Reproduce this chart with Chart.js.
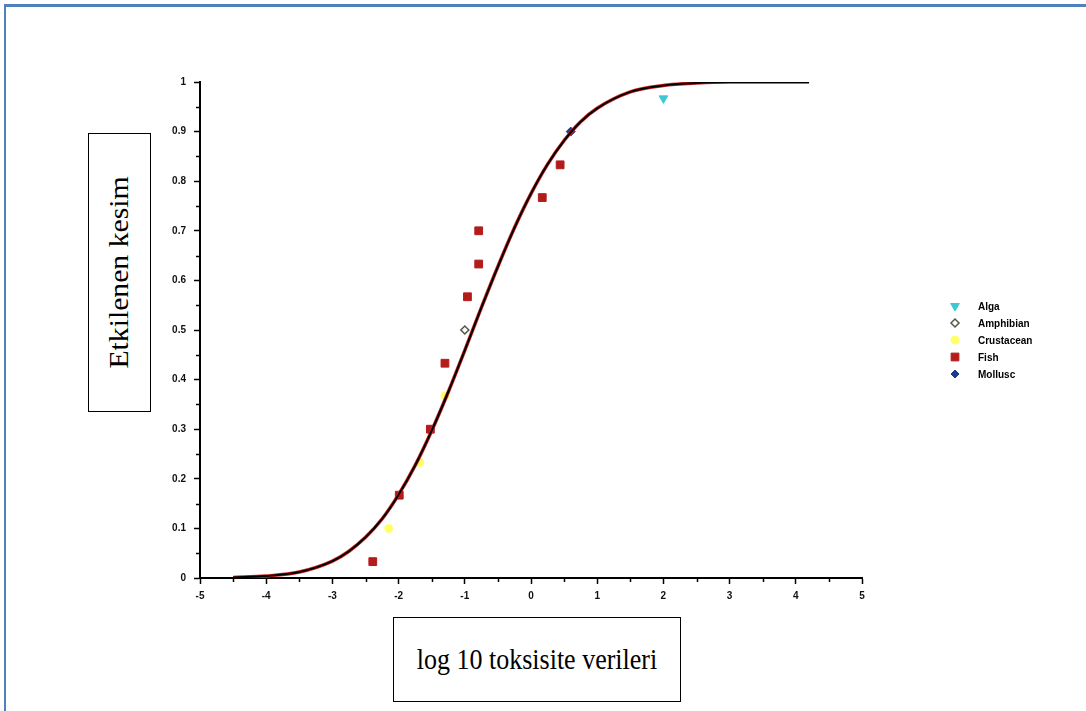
<!DOCTYPE html>
<html>
<head>
<meta charset="utf-8">
<script src="https://cdn.jsdelivr.net/npm/chart.js@4.4.0/dist/chart.umd.min.js"></script>
<style>
  body { margin: 0; background: #fff; overflow: hidden; width: 1086px; height: 711px; position: relative; }
  #frame { position: absolute; left: 4px; top: 4px; width: 1100px; height: 720px; border-left: 2px solid #4f81bd; border-top: 3px solid #4f81bd; }
  #chart { position: absolute; left: 0; top: 0; }
  .label-box { position: absolute; border: 1.5px solid #000; background: #fff; font-family: "Liberation Serif", "Times New Roman", serif; color: #000; display: flex; align-items: center; justify-content: center; box-sizing: border-box; }
  #ylab { left: 88px; top: 133px; width: 63px; height: 279px; }
  #ylab span { transform: rotate(-90deg) scaleX(1.1); white-space: nowrap; font-size: 27px; }
  #xlab { left: 393px; top: 617px; width: 288px; height: 85px; }
  #xlab span { font-size: 26px; white-space: nowrap; transform: scaleY(1.1); }
</style>
</head>
<body>
<div id="frame"></div>
<canvas id="chart" width="1086" height="711"></canvas>
<div class="label-box" id="ylab"><span>Etkilenen kesim</span></div>
<div class="label-box" id="xlab"><span>log 10 toksisite verileri</span></div>
<script>
// fitted curve
const curveX = [-4.5, -4, -3.5, -3, -2.75, -2.5, -2.25, -2, -1.75, -1.5, -1.25, -1, -0.75, -0.5, -0.25, 0, 0.25, 0.5, 0.75, 1, 1.5, 2, 2.5, 3, 3.5, 4.2];
const curveY = [0.001, 0.004, 0.012, 0.034, 0.054, 0.082, 0.119, 0.168, 0.227, 0.297, 0.375, 0.459, 0.545, 0.628, 0.706, 0.775, 0.834, 0.882, 0.92, 0.947, 0.98, 0.993, 0.998, 1.0, 1.0, 1.0];

// species groups
const algaX = [2.0];
const algaY = [0.967];
const amphibianX = [-1.0];
const amphibianY = [0.5];
const crustaceanX = [-2.15, -1.68, -1.3];
const crustaceanY = [0.1, 0.233, 0.367];
const fishX = [-2.39, -1.99, -1.52, -1.3, -0.96, -0.79, -0.79, 0.17, 0.44];
const fishY = [0.033, 0.167, 0.3, 0.433, 0.567, 0.633, 0.7, 0.767, 0.833];
const molluscX = [0.6];
const molluscY = [0.9];

const xTicks = [-5, -4, -3, -2, -1, 0, 1, 2, 3, 4, 5];
const yTicks = [0, 0.1, 0.2, 0.3, 0.4, 0.5, 0.6, 0.7, 0.8, 0.9, 1];

function pts(xs, ys) {
  return xs.map((x, i) => ({ x: x, y: ys[i] }));
}

const tickFont = { family: '"Liberation Sans Narrow", "Liberation Sans", Arial, sans-serif', size: 10, weight: 'bold' };

const minorTicks = {
  id: 'minorTicks',
  afterDraw(chart) {
    const ctx = chart.ctx;
    const xs = chart.scales.x, ys = chart.scales.y;
    const area = chart.chartArea;
    ctx.save();
    ctx.strokeStyle = '#000';
    ctx.lineWidth = 1.5;
    for (let i = 0; i < xTicks.length - 1; i++) {
      const px = Math.round(xs.getPixelForValue(xTicks[i] + 0.5)) + 0.5;
      ctx.beginPath();
      ctx.moveTo(px, area.bottom);
      ctx.lineTo(px, area.bottom + 4);
      ctx.stroke();
    }
    for (let i = 0; i < yTicks.length - 1; i++) {
      const py = Math.round(ys.getPixelForValue(yTicks[i] + 0.05)) + 0.5;
      ctx.beginPath();
      ctx.moveTo(area.left - 4, py);
      ctx.lineTo(area.left, py);
      ctx.stroke();
    }
    ctx.restore();
  }
};

const sideLegend = {
  id: 'sideLegend',
  afterDraw(chart) {
    const ctx = chart.ctx;
    const sets = chart.data.datasets.filter(d => d.inLegend);
    ctx.save();
    sets.forEach((d, i) => {
      const y = 306 + i * 17;
      ctx.fillStyle = d.pointBackgroundColor;
      ctx.strokeStyle = d.pointBorderColor;
      ctx.lineWidth = d.pointBorderWidth;
      Chart.helpers.drawPoint(ctx, {
        pointStyle: d.pointStyle,
        radius: d.legendRadius,
        rotation: d.pointRotation || 0,
        borderWidth: d.pointBorderWidth
      }, 955, y);
      ctx.fillStyle = '#000';
      ctx.font = 'bold 10px "Liberation Sans Narrow", "Liberation Sans", Arial, sans-serif';
      ctx.textBaseline = 'middle';
      ctx.textAlign = 'left';
      ctx.fillText(d.label, 978, y + 1);
    });
    ctx.restore();
  }
};

new Chart(document.getElementById('chart'), {
  type: 'scatter',
  data: {
    datasets: [
      {
        type: 'line',
        label: 'fit',
        data: pts(curveX, curveY),
        borderColor: '#000',
        borderWidth: 2,
        pointRadius: 0,
        fill: false,
        cubicInterpolationMode: 'monotone'
      },
      {
        type: 'line',
        label: 'fit red',
        data: pts(curveX, curveY),
        borderColor: '#d02020',
        borderWidth: 3.5,
        pointRadius: 0,
        fill: false,
        cubicInterpolationMode: 'monotone'
      },
      {
        label: 'Alga',
        inLegend: true,
        data: pts(algaX, algaY),
        pointStyle: 'triangle',
        pointRotation: 180,
        pointRadius: 5,
        legendRadius: 5,
        pointBackgroundColor: '#3cc8d2',
        pointBorderColor: '#3cc8d2',
        pointBorderWidth: 1
      },
      {
        label: 'Amphibian',
        inLegend: true,
        data: pts(amphibianX, amphibianY),
        pointStyle: 'rectRot',
        pointRadius: 4,
        legendRadius: 4,
        pointBackgroundColor: '#fff',
        pointBorderColor: '#555544',
        pointBorderWidth: 1.5
      },
      {
        label: 'Crustacean',
        inLegend: true,
        data: pts(crustaceanX, crustaceanY),
        pointStyle: 'circle',
        pointRadius: 4,
        legendRadius: 4,
        pointBackgroundColor: '#ffff66',
        pointBorderColor: '#ffff66',
        pointBorderWidth: 1
      },
      {
        label: 'Fish',
        inLegend: true,
        data: pts(fishX, fishY),
        pointStyle: 'rect',
        pointRadius: 5.5,
        legendRadius: 5.5,
        pointBackgroundColor: '#b41c1c',
        pointBorderColor: '#b41c1c',
        pointBorderWidth: 1
      },
      {
        label: 'Mollusc',
        inLegend: true,
        data: pts(molluscX, molluscY),
        pointStyle: 'rectRot',
        pointRadius: 4.5,
        legendRadius: 4,
        pointBackgroundColor: '#1c3c92',
        pointBorderColor: '#1c3c92',
        pointBorderWidth: 1
      }
    ]
  },
  options: {
    responsive: false,
    animation: false,
    events: [],
    layout: { padding: { left: 140, top: 82, right: 224, bottom: 103 } },
    plugins: {
      legend: { display: false },
      tooltip: { enabled: false }
    },
    scales: {
      x: {
        type: 'linear',
        min: -5,
        max: 5,
        afterFit: s => { s.height = 30; },
        afterBuildTicks: s => { s.ticks = xTicks.map(v => ({ value: v })); },
        border: { display: true, color: '#000', width: 2 },
        grid: { drawOnChartArea: false, drawTicks: true, tickLength: 6, tickWidth: 1.5, tickColor: '#000' },
        ticks: { font: tickFont, color: '#111', padding: 6, maxRotation: 0 }
      },
      y: {
        type: 'linear',
        min: 0,
        max: 1,
        afterFit: s => { s.width = 60; },
        afterBuildTicks: s => { s.ticks = yTicks.map(v => ({ value: v })); },
        border: { display: true, color: '#000', width: 2 },
        grid: { drawOnChartArea: false, drawTicks: true, tickLength: 6, tickWidth: 1.5, tickColor: '#000' },
        ticks: { font: tickFont, color: '#111', padding: 8, callback: v => String(v) }
      }
    }
  },
  plugins: [minorTicks, sideLegend]
});
</script>
</body>
</html>
